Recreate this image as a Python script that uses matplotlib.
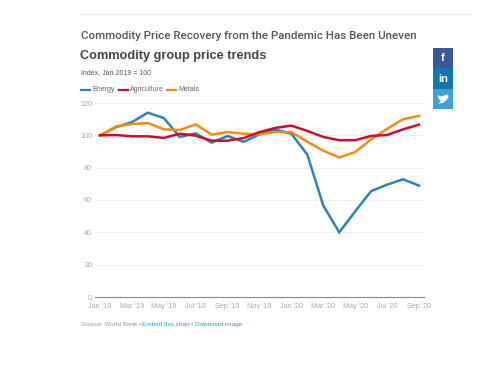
import matplotlib
matplotlib.use("Agg")
import matplotlib.pyplot as plt
from matplotlib.patches import Rectangle, Polygon
from matplotlib.lines import Line2D

months = ["Jan '19", "Feb '19", "Mar '19", "Apr '19", "May '19", "Jun '19", "Jul '19",
          "Aug '19", "Sep '19", "Oct '19", "Nov '19", "Dec '19", "Jan '20", "Feb '20",
          "Mar '20", "Apr '20", "May '20", "Jun '20", "Jul '20", "Aug '20", "Sep '20"]
energy = [100, 105, 108.2, 114, 110.7, 99, 101.2, 95.5, 99.6, 96, 100.6, 103.6,
          101, 88, 56.5, 40, 53, 65.5, 69.5, 72.8, 68.9]
agriculture = [100, 100.2, 99.4, 99.4, 98.4, 101, 99.8, 96.7, 96.7, 98.3, 102, 104.6,
               106, 102.7, 99, 97, 97, 99.6, 100.2, 103.7, 106.6]
metals = [100, 105.5, 107, 107.6, 103.7, 103.3, 106.8, 100.4, 102, 101, 100.6, 102,
          102, 96, 90.5, 86.3, 89.7, 97.5, 104, 110, 112]
yticks = [0, 20, 40, 60, 80, 100, 120]

W, H = 500, 372
fig = plt.figure(figsize=(W / 100, H / 100), dpi=100)
plt.rcParams["font.family"] = ["Liberation Sans", "DejaVu Sans"]


def fx(px):
    return px / W


def fy(py):
    return 1 - py / H


# plot area in pixels: x 95-424, 120 at y=103, 0 at y=297
ax = fig.add_axes([fx(95), fy(297), (424 - 95) / W, (297 - 103) / H])
x = list(range(len(months)))
ax.plot(x, energy, color="#2b83ba", lw=1.8, solid_joinstyle="miter", label="Energy")
ax.plot(x, metals, color="#f68b0f", lw=1.8, solid_joinstyle="miter", label="Metals")
ax.plot(x, agriculture, color="#c8102e", lw=1.8, solid_joinstyle="miter", label="Agriculture")

ax.set_xlim(-5 / 15.95, 20 + 5 / 15.95)
ax.set_ylim(0, 120)
ax.set_yticks(yticks)
ax.set_xticks(x[::2])
ax.set_xticklabels(months[::2])
ax.tick_params(axis="both", length=0, labelsize=5.2, labelcolor="#a8a8a8")
ax.tick_params(axis="x", pad=4)
ax.tick_params(axis="y", pad=2)
ax.grid(axis="y", color="#ececec", lw=0.7)
ax.set_axisbelow(True)
for side in ["top", "right", "left"]:
    ax.spines[side].set_visible(False)
ax.spines["bottom"].set_color("#888888")
ax.spines["bottom"].set_linewidth(0.8)
ax.patch.set_alpha(0)

# top rule
fig.add_artist(Line2D([fx(80), fx(470)], [fy(14), fy(14)], color="#e8e8e8", lw=0.7))

# titles
fig.text(fx(81), fy(36), "Commodity Price Recovery from the Pandemic Has Been Uneven",
         family="Roboto", fontsize=8.25, fontweight="medium", color="#555555", va="center")
fig.text(fx(80), fy(55.5), "Commodity group price trends", fontsize=9.2,
         fontweight="bold", color="#444444", va="center")
fig.text(fx(81), fy(73), "Index, Jan 2019 = 100", fontsize=5, color="#555555", va="center")

# legend
legend_x = [(81, 90, 92, "Energy", "#2b83ba"),
            (119, 128, 130, "Agriculture", "#c8102e"),
            (167, 176, 178, "Metals", "#f68b0f")]
for x0, x1, xt, name, col in legend_x:
    fig.add_artist(Line2D([fx(x0), fx(x1)], [fy(89.5), fy(89.5)], color=col, lw=1.6))
    fig.text(fx(xt), fy(89.5), name, fontsize=5, color="#666666", va="center")

# source line
fig.text(fx(81), fy(324.5), "Source: World Bank \u2022", fontsize=4.6, color="#999999", va="center")
fig.text(fx(142), fy(324.5), "Embed this chart", fontsize=4.6, color="#2e9bd0", va="center")
fig.text(fx(190.5), fy(324.5), "\u2022", fontsize=4.6, color="#999999", va="center")
fig.text(fx(195), fy(324.5), "Download image", fontsize=4.6, color="#2e9bd0", va="center")

# share buttons
buttons = [(48, 68, "#3b5998", "f"), (68, 89, "#0f78b0", "in"), (89, 109, "#3fa2d2", "")]
for top, bottom, col, label in buttons:
    fig.add_artist(Rectangle((fx(433), fy(bottom)), 20 / W, (bottom - top) / H,
                             transform=fig.transFigure, facecolor=col, edgecolor="none"))
    if label:
        fig.text(fx(443), fy((top + bottom) / 2), label, color="white", fontsize=8,
                 fontweight="bold", ha="center", va="center")
bird = [(437.5, 95), (441, 96.5), (444, 95.5), (448, 94.5), (448.5, 97), (446.5, 100),
        (443, 103), (438, 103.5), (441, 101.5), (438.5, 98.5)]
fig.add_artist(Polygon([(fx(a), fy(b)) for a, b in bird], closed=True,
                       transform=fig.transFigure, facecolor="white", edgecolor="none"))

fig.savefig("out.png", dpi=100)
